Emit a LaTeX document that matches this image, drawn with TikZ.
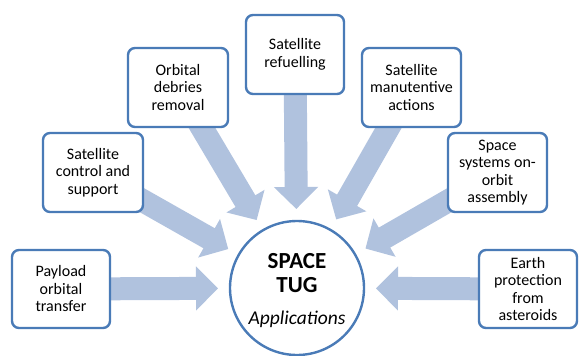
\documentclass[tikz,border=0pt]{standalone}
\usepackage{fontspec}
\setmainfont{Carlito}
\usetikzlibrary{arrows.meta,calc,backgrounds}
\definecolor{bordblue}{HTML}{4A7BB7}
\definecolor{arrblue}{HTML}{B0C2DE}
\tikzset{
  appbox/.style={draw=bordblue, line width=2.4pt, rounded corners=7pt, fill=white,
    minimum width=98pt, minimum height=78pt, align=center, inner sep=2pt,
    font=\fontsize{16}{17.5}\selectfont},
  hub/.style={circle, draw=bordblue, line width=2.4pt, fill=white, minimum size=134pt, inner sep=0pt},
  fatarrow/.style={draw=arrblue, line width=23pt, line cap=butt,
    -{Triangle[width=43pt,length=22pt]}}
}
\begin{document}
\begin{tikzpicture}[x=1pt,y=-1pt]
\useasboundingbox (0,0) rectangle (579,356);
\node[hub] (c) at (297,288) {};
\node[font=\bfseries\fontsize{23}{24}\selectfont, align=center] (t1) at (297,273) {SPACE\\TUG};
\node[font=\itshape\fontsize{19.5}{21}\selectfont] (t2) at (297,319) {Applications};
\node[appbox] (pay) at (61,289) {Payload\\orbital\\transfer};
\node[appbox, minimum width=100pt, minimum height=79pt] (ctl) at (93,172.5) {Satellite\\control and\\support};
\node[appbox, minimum width=100pt, minimum height=79pt] (deb) at (178,87.5) {Orbital\\debries\\removal};
\node[appbox, minimum height=79pt] (ref) at (295,54.5) {Satellite\\refuelling};
\node[appbox, minimum width=99pt, minimum height=79pt] (man) at (411.5,87.5) {Satellite\\manutentive\\actions};
\node[appbox, minimum width=99pt, minimum height=79pt] (spc) at (497.5,172.5) {Space\\systems on-\\orbit\\assembly};
\node[appbox] (ear) at (528,289) {Earth\\protection\\from\\asteroids};
\begin{scope}[on background layer]
\foreach \b in {pay,ctl,deb,ref,man,spc,ear}{
  \draw[fatarrow] (\b.center) -- ($(c.center)!79pt!(\b.center)$);
}
\end{scope}
\end{tikzpicture}
\end{document}
